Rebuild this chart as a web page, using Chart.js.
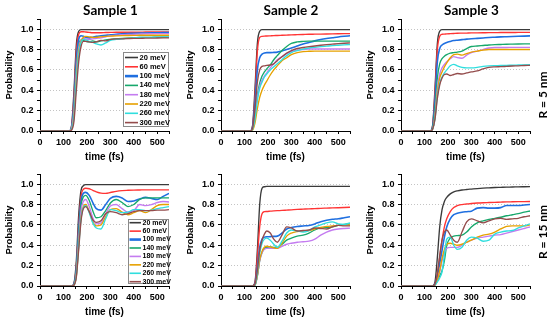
<!DOCTYPE html>
<html><head><meta charset="utf-8">
<script src="https://cdn.jsdelivr.net/npm/chart.js@4.4.0/dist/chart.umd.min.js"></script>
<style>
html,body{margin:0;padding:0;background:#fff;}
#wrap{position:relative;width:550px;height:322px;overflow:hidden;background:#fff;}
#wrap canvas{position:absolute;}
.ttl{position:absolute;font:bold 13.5px Lato,'Liberation Sans',sans-serif;color:#000;transform:translate(-50%,-50%);white-space:nowrap;}
.rl{position:absolute;font:bold 12px Lato,'Liberation Sans',sans-serif;color:#000;transform:translate(-50%,-50%) rotate(-90deg);white-space:nowrap;}
</style></head>
<body><div id="wrap"></div>
<script>
// ---------------- data ----------------
const times = [0,125,135,145,155,165,175,185,195,210,225,240,260,280,300,325,350,375,400,425,450,475,500,525,550];
const energies = ['20 meV','60 meV','100 meV','140 meV','180 meV','220 meV','260 meV','300 meV'];
const sampleTitles = ['Sample 1','Sample 2','Sample 3'];
const radiusLabels = ['R = 5 nm','R = 15 nm'];
const xTickLabels = [0,100,200,300,400,500];
const yTickLabels = ['0.0','0.2','0.4','0.6','0.8','1.0'];

const sample1_R5 = [
 [0,0,.06,.40,.85,.98,.995,.995,.995,.995,.995,.995,.995,.995,.995,.995,.995,.995,.995,.995,.995,.995,.995,.995,.995],
 [0,0,.05,.34,.78,.95,.975,.975,.972,.968,.965,.965,.965,.967,.968,.970,.970,.970,.970,.970,.972,.972,.972,.972,.972],
 [0,0,.04,.28,.70,.90,.935,.930,.920,.915,.920,.930,.935,.940,.945,.950,.955,.957,.960,.962,.963,.964,.965,.966,.966],
 [0,0,.03,.22,.62,.84,.895,.890,.880,.875,.885,.875,.885,.895,.900,.905,.910,.912,.915,.918,.920,.920,.922,.922,.922],
 [0,0,.03,.20,.58,.82,.890,.910,.905,.900,.905,.910,.915,.925,.935,.940,.945,.948,.950,.952,.954,.955,.956,.957,.957],
 [0,0,.02,.16,.52,.78,.880,.920,.930,.925,.920,.920,.925,.930,.932,.935,.937,.938,.939,.940,.940,.940,.940,.940,.940],
 [0,0,.02,.14,.48,.75,.870,.900,.895,.880,.870,.855,.845,.865,.890,.900,.905,.910,.915,.918,.920,.920,.922,.924,.925],
 [0,0,.01,.10,.40,.68,.830,.880,.880,.875,.870,.875,.890,.885,.900,.905,.905,.908,.910,.910,.912,.912,.913,.914,.915]
];
const sample2_R5 = [
 [0,0,.06,.42,.86,.98,.995,.995,.995,.995,.995,.995,.995,.995,.995,.995,.995,.995,.995,.995,.995,.995,.995,.995,.995],
 [0,0,.05,.35,.78,.92,.930,.932,.933,.935,.937,.938,.940,.942,.944,.946,.948,.950,.951,.952,.953,.954,.955,.956,.957],
 [0,0,.04,.28,.60,.72,.755,.765,.770,.770,.772,.775,.785,.800,.815,.835,.855,.870,.885,.898,.908,.916,.924,.930,.935],
 [0,0,.02,.15,.35,.47,.54,.58,.61,.65,.70,.74,.79,.83,.86,.875,.88,.882,.882,.882,.882,.882,.882,.882,.882],
 [0,0,.02,.14,.33,.44,.50,.54,.57,.62,.66,.70,.73,.76,.78,.795,.80,.805,.805,.805,.805,.805,.805,.805,.805],
 [0,0,.01,.08,.22,.33,.40,.45,.49,.55,.60,.64,.69,.72,.75,.77,.78,.783,.785,.785,.785,.785,.785,.785,.785],
 [0,0,.02,.12,.30,.42,.48,.53,.56,.60,.63,.66,.70,.74,.77,.79,.805,.815,.822,.828,.833,.838,.842,.846,.850],
 [0,0,.03,.22,.48,.60,.635,.640,.645,.648,.660,.690,.730,.765,.790,.810,.820,.828,.835,.842,.848,.853,.858,.862,.865]
];
const sample3_R5 = [
 [0,0,.06,.42,.86,.98,.995,.995,.995,.995,.995,.995,.995,.995,.995,.995,.995,.995,.995,.995,.995,.995,.995,.995,.995],
 [0,0,.05,.38,.80,.93,.950,.952,.954,.956,.958,.960,.961,.962,.963,.964,.965,.966,.966,.967,.967,.967,.968,.968,.968],
 [0,0,.04,.30,.68,.81,.845,.860,.870,.880,.888,.892,.897,.902,.906,.910,.914,.918,.921,.924,.926,.928,.930,.932,.934],
 [0,0,.03,.22,.52,.66,.710,.735,.750,.765,.770,.775,.785,.810,.830,.835,.840,.845,.848,.850,.852,.853,.854,.855,.856],
 [0,0,.02,.16,.42,.56,.620,.655,.680,.710,.730,.720,.715,.745,.770,.785,.800,.815,.820,.820,.820,.822,.822,.822,.822],
 [0,0,.02,.14,.38,.52,.580,.630,.670,.720,.750,.755,.745,.760,.775,.785,.795,.800,.800,.800,.800,.800,.800,.800,.800],
 [0,0,.02,.12,.34,.47,.530,.570,.600,.640,.655,.640,.625,.620,.620,.625,.635,.640,.642,.643,.645,.646,.648,.650,.652],
 [0,0,.02,.12,.32,.45,.520,.555,.560,.545,.555,.565,.560,.570,.580,.590,.610,.625,.630,.632,.635,.638,.640,.643,.645]
];
const sample1_R15 = [
 [0,0,0,.03,.25,.70,.94,.985,.995,.995,.995,.995,.995,.995,.995,.995,.995,.995,.995,.995,.995,.995,.995,.995,.995],
 [0,0,0,.02,.20,.60,.88,.95,.96,.955,.94,.925,.912,.910,.918,.930,.937,.940,.942,.943,.944,.944,.944,.944,.944],
 [0,0,0,.02,.17,.55,.83,.91,.92,.89,.82,.76,.745,.80,.86,.88,.865,.83,.835,.855,.87,.86,.85,.88,.91],
 [0,0,0,.015,.15,.50,.79,.875,.89,.84,.74,.67,.68,.74,.815,.85,.82,.78,.80,.85,.865,.865,.865,.865,.865],
 [0,0,0,.01,.12,.45,.74,.83,.85,.78,.67,.61,.62,.71,.785,.80,.76,.725,.74,.80,.79,.80,.82,.83,.825],
 [0,0,0,.01,.10,.40,.68,.78,.80,.73,.63,.59,.60,.68,.75,.76,.725,.70,.72,.74,.72,.75,.79,.80,.80],
 [0,0,0,.01,.10,.38,.66,.77,.79,.72,.62,.57,.56,.66,.75,.74,.72,.725,.75,.75,.74,.745,.76,.77,.78],
 [0,0,0,.01,.09,.36,.64,.76,.78,.73,.65,.625,.64,.71,.73,.72,.70,.71,.73,.74,.74,.74,.745,.745,.75]
];
const sample2_R15 = [
 [0,0,0,.04,.35,.80,.96,.975,.978,.978,.978,.978,.978,.978,.978,.978,.978,.978,.978,.978,.978,.978,.978,.978,.978],
 [0,0,0,.03,.28,.58,.71,.73,.732,.735,.738,.74,.742,.745,.748,.752,.755,.758,.76,.763,.765,.767,.769,.771,.773],
 [0,0,0,.02,.18,.38,.46,.48,.483,.485,.487,.49,.52,.56,.575,.585,.59,.595,.61,.63,.645,.655,.66,.67,.68],
 [0,0,0,.01,.10,.25,.33,.37,.38,.385,.38,.38,.41,.45,.47,.49,.50,.52,.55,.57,.575,.58,.595,.605,.61],
 [0,0,0,.01,.10,.25,.33,.36,.37,.37,.37,.37,.39,.41,.42,.43,.435,.44,.46,.50,.53,.55,.56,.565,.568],
 [0,0,0,.01,.10,.26,.34,.38,.39,.385,.375,.37,.42,.49,.52,.535,.54,.545,.56,.575,.585,.59,.595,.60,.60],
 [0,0,0,.01,.12,.32,.42,.46,.47,.45,.41,.38,.44,.52,.55,.54,.53,.545,.58,.60,.62,.63,.61,.605,.62],
 [0,0,0,.02,.15,.35,.45,.51,.54,.52,.46,.43,.50,.58,.57,.54,.545,.55,.57,.565,.56,.58,.595,.59,.59]
];
const sample3_R15 = [
 [0,0,0,.04,.28,.58,.75,.83,.87,.905,.925,.935,.943,.948,.952,.957,.961,.964,.967,.969,.971,.972,.974,.975,.976],
 [0,0,0,.02,.12,.28,.45,.58,.66,.73,.77,.79,.80,.805,.81,.815,.818,.82,.822,.824,.826,.827,.828,.829,.83],
 [0,0,0,.02,.10,.22,.35,.48,.58,.66,.70,.715,.725,.73,.735,.765,.77,.765,.765,.77,.79,.79,.79,.795,.80],
 [0,0,0,.01,.05,.10,.15,.25,.40,.47,.49,.495,.50,.53,.58,.62,.64,.655,.665,.675,.69,.70,.71,.725,.737],
 [0,0,0,.01,.06,.14,.25,.33,.37,.38,.38,.38,.40,.43,.45,.47,.48,.49,.50,.505,.52,.535,.55,.565,.58],
 [0,0,0,.01,.06,.15,.27,.36,.41,.42,.41,.40,.41,.43,.45,.48,.50,.51,.53,.56,.585,.59,.59,.59,.60],
 [0,0,0,.01,.04,.08,.14,.30,.46,.48,.40,.36,.38,.45,.48,.47,.44,.45,.51,.53,.54,.545,.57,.59,.61],
 [0,0,0,.02,.12,.30,.45,.53,.55,.50,.45,.43,.53,.63,.66,.64,.62,.64,.66,.665,.655,.66,.665,.68,.69]
];

// ---------------- styles / layout ----------------
const colors = ['#3a3a3a','#ff3434','#1f6fe0','#17a86c','#c47cf0','#e6a100','#30dede','#944c4c'];
const tickFont = {family:'"Liberation Sans", Arial, sans-serif', size:9, weight:'bold'};
const labelFont = {family:'"Liberation Sans", Arial, sans-serif', size:10, weight:'bold'};
const colLeft = [0,181,361];
const rowTop = [0,155];
const panels = [
  {data:sample1_R5,  col:0,row:0, legend:{x:123,y:52,w:46,h:75,firstY:57.5,step:9.3,lx0:125,lx1:138,tx:139.5,fs:7.5}},
  {data:sample2_R5,  col:1,row:0, legend:false},
  {data:sample3_R5,  col:2,row:0, legend:false},
  {data:sample1_R15, col:0,row:1, legend:{x:128,y:64,w:41,h:65,firstY:67.7,step:8.43,lx0:129.5,lx1:141,tx:142.5,fs:7}},
  {data:sample2_R15, col:1,row:1, legend:false},
  {data:sample3_R15, col:2,row:1, legend:false}
];

const legendPlugin = {
  id:'customLegend',
  afterDatasetsDraw(chart, args, o){
    if(!o || !o.w) return;
    const ctx = chart.ctx;
    ctx.save();
    ctx.fillStyle='#fff';
    ctx.fillRect(o.x,o.y,o.w,o.h);
    ctx.strokeStyle='#8a8a8a'; ctx.lineWidth=1;
    ctx.strokeRect(o.x+0.5,o.y+0.5,o.w-1,o.h-1);
    ctx.font = 'bold '+o.fs+'px "Liberation Sans", Arial, sans-serif';
    ctx.textBaseline='middle'; ctx.textAlign='left';
    chart.data.datasets.forEach((ds,i)=>{
      const y = o.firstY + i*o.step;
      ctx.strokeStyle = ds.borderColor;
      ctx.lineWidth = i===2 ? 2.6 : 1.6;
      ctx.beginPath(); ctx.moveTo(o.lx0,y); ctx.lineTo(o.lx1,y); ctx.stroke();
      ctx.fillStyle='#000';
      ctx.fillText(ds.label, o.tx, y);
    });
    ctx.restore();
  }
};

const wrap = document.getElementById('wrap');
panels.forEach(p=>{
  const cv = document.createElement('canvas');
  cv.width=180; cv.height=167;
  cv.style.width='180px'; cv.style.height='167px';
  cv.style.left=colLeft[p.col]+'px'; cv.style.top=rowTop[p.row]+'px';
  wrap.appendChild(cv);
  const datasets = p.data.map((vals,i)=>({
    label: energies[i],
    data: times.map((t,j)=>({x:t,y:vals[j]})),
    borderColor: colors[i],
    backgroundColor: colors[i],
    borderWidth: i===2 ? 1.6 : 1.35,
    pointRadius: 0,
    cubicInterpolationMode: 'monotone',
    fill: false,
    order: 7-i
  }));
  new Chart(cv.getContext('2d'), {
    type:'line',
    data:{datasets},
    plugins:[legendPlugin],
    options:{
      responsive:false, animation:false, events:[],
      layout:{padding:{left:0,right:11,top:19,bottom:3}},
      plugins:{legend:{display:false}, tooltip:{enabled:false}, title:{display:false}, customLegend:p.legend},
      scales:{
        x:{
          type:'linear', min:0, max:550,
          afterFit(s){ s.height=33; },
          ticks:{stepSize:50, autoSkip:false, maxRotation:0, color:'#000', font:tickFont, padding:3.5,
            callback:(v)=> xTickLabels.includes(v) ? String(v) : ''},
          grid:{drawOnChartArea:false, drawTicks:true, tickLength:3, tickColor:'#000', tickWidth:1},
          border:{display:true, color:'#000', width:1},
          title:{display:true, text:'time (fs)', color:'#000', font:labelFont, padding:{top:0,bottom:1}}
        },
        y:{
          min:0, max:1.1,
          afterFit(s){ s.width=40; },
          ticks:{stepSize:0.1, autoSkip:false, color:'#000', font:tickFont, padding:3.5,
            callback:(v)=>{ const k=Math.round(v*10); return (k%2===0 && k<=10) ? yTickLabels[k/2] : ''; }},
          grid:{drawOnChartArea:true, drawTicks:true, tickLength:3, tickColor:'#000', tickWidth:1, lineWidth:1,
            color:(c)=>{ const k=Math.round(c.tick.value*10); return (k>0 && k<=10 && k%2===0) ? '#c4c4c4' : 'rgba(0,0,0,0)'; }},
          border:{display:true, color:'#000', width:1, dash:[1,2]},
          title:{display:true, text:'Probability', color:'#000', font:{family:'"Liberation Sans", Arial, sans-serif', size:9.5, weight:'bold'}, padding:{top:4,bottom:0}}
        }
      }
    }
  });
});

// titles
const titleX = [110.5,291,471.5];
sampleTitles.forEach((t,i)=>{
  const d=document.createElement('div'); d.className='ttl'; d.textContent=t;
  d.style.left=titleX[i]+'px'; d.style.top='10px'; wrap.appendChild(d);
});
const rY=[95,232];
radiusLabels.forEach((t,i)=>{
  const d=document.createElement('div'); d.className='rl'; d.textContent=t;
  d.style.left='542px'; d.style.top=rY[i]+'px'; wrap.appendChild(d);
});
</script>
</body></html>
